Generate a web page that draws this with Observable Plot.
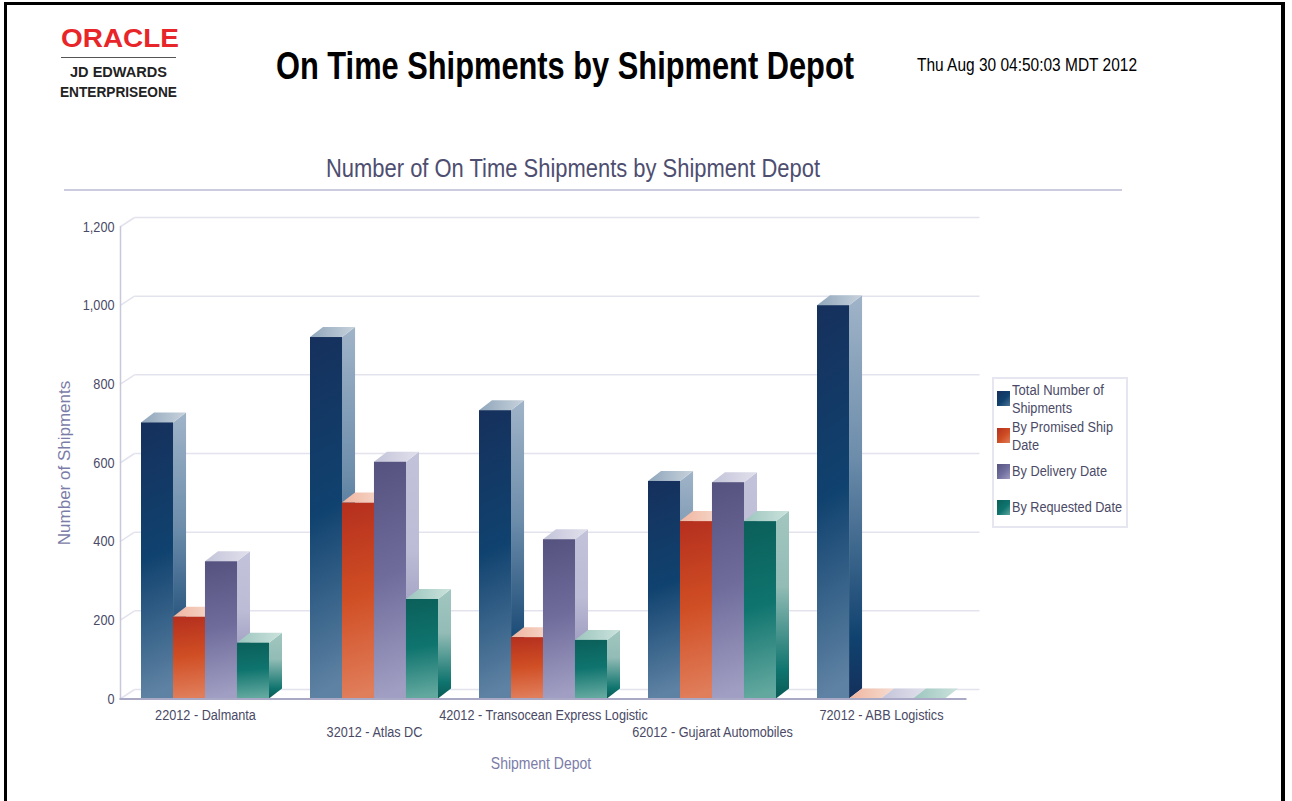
<!DOCTYPE html>
<html>
<head>
<meta charset="utf-8">
<script src="https://cdn.jsdelivr.net/npm/d3@7"></script>
<script src="https://cdn.jsdelivr.net/npm/@observablehq/plot@0.6"></script>
<style>
html,body{margin:0;padding:0;background:#fff;overflow:hidden}
#page{position:relative;width:1292px;height:801px;font-family:"Liberation Sans",Arial,sans-serif;overflow:hidden}
#chart{position:absolute;left:0;top:0}
.t{position:absolute;white-space:nowrap;transform-origin:0 50%}
#frame{position:absolute;left:4px;top:2px;width:1274px;height:810px;border:3px solid #000;border-right-width:4px;pointer-events:none}
#rule{position:absolute;left:64px;top:189px;width:1058px;height:2px;background:#ccccdf}
#logoline{position:absolute;left:61px;top:57px;width:115px;height:1px;background:#555}
#legend{position:absolute;left:992px;top:377px;width:132px;height:147px;border:2px solid #e6e6f0;background:#fff}
.sw{position:absolute;left:997px;width:13px;height:15px}
.lg{font-size:14px;color:#4a4a66}
</style>
</head>
<body>
<div id="page">
  <div id="chart"></div>
  <div id="frame"></div>
  <div class="t" data-w="118" style="left:61px;top:23px;font-size:25px;line-height:30px;font-weight:bold;color:#e8262a">ORACLE</div>
  <div id="logoline"></div>
  <div class="t" data-w="97" style="left:70px;top:64px;font-size:14px;line-height:17px;font-weight:bold;color:#222">JD EDWARDS</div>
  <div class="t" data-w="117" style="left:60px;top:84px;font-size:14px;line-height:17px;font-weight:bold;color:#222">ENTERPRISEONE</div>
  <div class="t" data-w="578" style="left:276px;top:44px;font-size:38px;line-height:44px;font-weight:bold;color:#000">On Time Shipments by Shipment Depot</div>
  <div class="t" data-w="220" style="left:917px;top:54px;font-size:19px;line-height:22px;color:#000">Thu Aug 30 04:50:03 MDT 2012</div>
  <div class="t" data-w="494" style="left:326px;top:153px;font-size:26px;line-height:30px;color:#4e4e70">Number of On Time Shipments by Shipment Depot</div>
  <div id="rule"></div>
  <div id="legend"></div>
  <div class="sw" style="top:391px;background:linear-gradient(135deg,#16305c,#10426f 55%,#4d7496)"></div>
  <div class="sw" style="top:428px;background:linear-gradient(135deg,#b52f1e,#d04e24 55%,#e07d5a)"></div>
  <div class="sw" style="top:464px;background:linear-gradient(135deg,#55527f,#7270a0 55%,#9e9cc0)"></div>
  <div class="sw" style="top:500px;background:linear-gradient(135deg,#0b5f5a,#0f746e 55%,#5fa69e)"></div>
  <div class="t lg" data-w="92" style="left:1012px;top:382px">Total Number of</div>
  <div class="t lg" data-w="60" style="left:1012px;top:400px">Shipments</div>
  <div class="t lg" data-w="101" style="left:1012px;top:419px">By Promised Ship</div>
  <div class="t lg" data-w="27" style="left:1012px;top:437px">Date</div>
  <div class="t lg" data-w="95" style="left:1012px;top:463px">By Delivery Date</div>
  <div class="t lg" data-w="110" style="left:1012px;top:499px">By Requested Date</div>
</div>
<script>
const depots = ["22012 - Dalmanta","32012 - Atlas DC","42012 - Transocean Express Logistic","62012 - Gujarat Automobiles","72012 - ABB Logistics"];
const seriesNames = ["Total Number of Shipments","By Promised Ship Date","By Delivery Date","By Requested Date"];
const totalShipments = [702,919,733,553,1000];
const promisedDate = [208,498,156,451,0];
const deliveryDate = [349,602,405,550,0];
const requestedDate = [142,253,149,451,0];
const yTicks = [0,200,400,600,800,1000,1200];

const allSeries = [totalShipments,promisedDate,deliveryDate,requestedDate];
const palette = [
  {front:["#16305c","#10426f","#5e82a3"],side:["#a0b4c8","#6d8dab","#10426f","#14305b"],top:["#8fa6bb","#c8d2dc"]},
  {front:["#b52f1e","#d04e24","#e07d5a"],side:["#f3c3b2","#e08a6c","#c8431f","#a92a1a"],top:["#f0b5a0","#f6dccf"]},
  {front:["#55527f","#6f6c9c","#a09ec2"],side:["#c2c2da","#bcbcd6","#8e8cb4","#5a5785"],top:["#c4c4da","#e0e0ec"]},
  {front:["#0b5f5a","#0f746e","#62a89f"],side:["#a2c6c0","#93bcb6","#0f746e","#0a5a55"],top:["#9cc6be","#cbe2dc"]}
];

const NS = "http://www.w3.org/2000/svg";
const defsSvg = document.createElementNS(NS,"svg");
defsSvg.setAttribute("width",0);defsSvg.setAttribute("height",0);
defsSvg.style.position="absolute";
const defs = document.createElementNS(NS,"defs");
defsSvg.appendChild(defs);
function grad(id,stops,x2,y2,offs){
  const g=document.createElementNS(NS,"linearGradient");
  g.setAttribute("id",id);g.setAttribute("x1",0);g.setAttribute("y1",0);g.setAttribute("x2",x2);g.setAttribute("y2",y2);
  stops.forEach((c,i)=>{const s=document.createElementNS(NS,"stop");s.setAttribute("offset",offs[i]);s.setAttribute("stop-color",c);g.appendChild(s);});
  defs.appendChild(g);
}
palette.forEach((p,i)=>{
  grad("front"+i,p.front,0.05,1,[0,0.5,1]);
  grad("side"+i,p.side,0,1,[0,0.4,0.85,1]);
  grad("top"+i,p.top,1,0,[0,1]);
});
document.body.appendChild(defsSvg);

const depthX = 13, depthY = 10;

function bar3d(i){
  return function(index,scales,values,dims,ctx,next){
    const g = next(index,scales,values,dims,ctx);
    g.querySelectorAll("rect").forEach(r=>{
      const x=+r.getAttribute("x"),y=+r.getAttribute("y"),w=+r.getAttribute("width"),h=+(r.getAttribute("height")||0);
      const side=document.createElementNS(NS,"polygon");
      side.setAttribute("points",[[x+w,y],[x+w+depthX,y-depthY],[x+w+depthX,y+h-depthY],[x+w,y+h]].join(" "));
      side.setAttribute("fill",`url(#side${i})`);
      const top=document.createElementNS(NS,"polygon");
      top.setAttribute("points",[[x,y],[x+depthX,y-depthY],[x+w+depthX,y-depthY],[x+w,y]].join(" "));
      top.setAttribute("fill",`url(#top${i})`);
      r.parentNode.insertBefore(side,r);
      r.parentNode.insertBefore(top,r);
    });
    return g;
  };
}

const gridDx = 14.5, gridDy = -9.5;
function gridWithWall(index,scales,values,dims,ctx,next){
  const g = next(index,scales,values,dims,ctx);
  g.querySelectorAll("line").forEach(l=>{
    const x=+l.getAttribute("x1"),y=+l.getAttribute("y1");
    const d=document.createElementNS(NS,"line");
    d.setAttribute("x1",x-gridDx);d.setAttribute("y1",y-gridDy);d.setAttribute("x2",x);d.setAttribute("y2",y);
    g.appendChild(d);
  });
  return g;
}

const paddingInner = 0.243;
const bandWidth = 845 / 5 * (1 - paddingInner);
const slot = bandWidth / seriesNames.length;
const barMarks = allSeries.map((vals,i)=>{
  const rows = vals.map((v,j)=>({depot:depots[j],value:v}));
  return Plot.barY(rows,{x:"depot",y:"value",fill:`url(#front${i})`,
    insetLeft:slot*i,insetRight:slot*(seriesNames.length-1-i),render:bar3d(i)});
});

const textColor = "#4a4a66", labelColor = "#7c7ca8";

const chart = Plot.plot({
  width:1292,height:801,
  marginLeft:120,marginRight:327,marginTop:226.5,marginBottom:102.5,
  style:{fontFamily:'"Liberation Sans",Arial,sans-serif',fontSize:"14px",background:"transparent"},
  x:{domain:depots,paddingInner,paddingOuter:paddingInner/2,align:0.5},
  y:{domain:[0,1200]},
  marks:[
    Plot.ruleY(yTicks,{stroke:"#e3e3ee",strokeWidth:1.5,dx:gridDx,dy:gridDy,render:gridWithWall}),
    Plot.frame({anchor:"left",stroke:"#c8c8da",strokeWidth:1.5}),
    ...barMarks,
    Plot.frame({anchor:"bottom",stroke:"#a9a9c6",strokeWidth:2}),
    Plot.axisY(yTicks,{tickSize:0,tickPadding:6,tickFormat:d3.format(","),fill:textColor,label:null,fontSize:14.5}),
    Plot.axisX({ticks:[depots[0],depots[2],depots[4]],tickSize:0,tickPadding:11,fill:textColor,label:null,fontSize:14.5,lineWidth:Infinity,textOverflow:null}),
    Plot.axisX({ticks:[depots[1],depots[3]],tickSize:0,tickPadding:28,fill:textColor,label:null,fontSize:14.5,lineWidth:Infinity,textOverflow:null}),
    Plot.text(["Number of Shipments"],{frameAnchor:"left",rotate:-90,textAnchor:"middle",dx:-56,fill:labelColor,fontSize:17,text:d=>d}),
    Plot.text(["Shipment Depot"],{frameAnchor:"bottom",dy:70,dx:-2,fill:labelColor,fontSize:16,text:d=>d})
  ]
});
document.getElementById("chart").appendChild(chart);

// The reference's type is condensed: once Plot has placed the texts, squeeze each about its anchor.
chart.querySelectorAll("text").forEach(t=>{
  const old=t.getAttribute("transform")||"";
  if (old.includes("rotate")) return;
  const x=parseFloat(t.getAttribute("x"))||0;
  t.setAttribute("transform",`${old} translate(${x},0) scale(0.875,1) translate(${-x},0)`);
});

document.querySelectorAll(".t[data-w]").forEach(el=>{
  const w=el.getBoundingClientRect().width;
  el.style.transform=`scaleX(${(+el.dataset.w)/w})`;
});
</script>
</body>
</html>
